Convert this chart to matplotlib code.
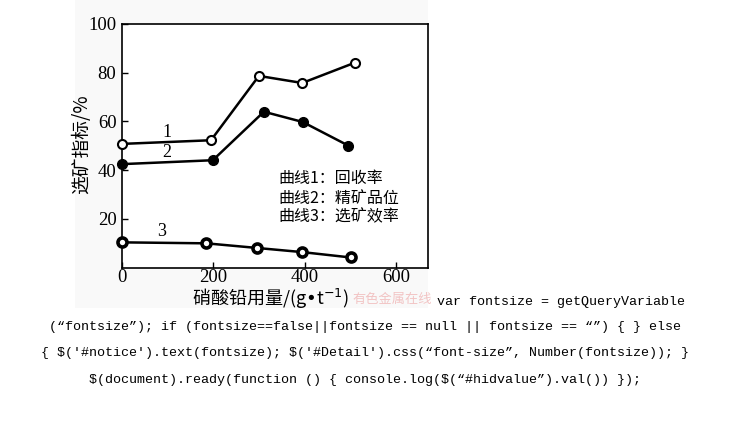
import matplotlib
matplotlib.use("Agg")
import matplotlib.pyplot as plt
from matplotlib.patches import Rectangle

# Data
x1 = [0, 195, 300, 395, 510]
y1 = [50.8, 52.3, 78.7, 75.8, 84.1]   # 回收率
x2 = [0, 199, 311, 396, 496]
y2 = [42.5, 44.1, 64.0, 59.8, 50.1]   # 精矿品位
x3 = [0, 185, 296, 395, 501]
y3 = [10.4, 10.0, 8.1, 6.4, 4.2]      # 选矿效率
xticks = [0, 200, 400, 600]
yticks = [20, 40, 60, 80, 100]
legend_lines = ["曲线1：回收率", "曲线2：精矿品位", "曲线3：选矿效率"]
code_lines = [
    'var fontsize = getQueryVariable',
    '(\u201cfontsize\u201d); if (fontsize==false||fontsize == null || fontsize == \u201c\u201d) { } else',
    '{ $(\'#notice\').text(fontsize); $(\'#Detail\').css(\u201cfont-size\u201d, Number(fontsize)); }',
    '$(document).ready(function () { console.log($(\u201c#hidvalue\u201d).val()) });',
]

serif = ["Liberation Serif", "Noto Sans CJK SC", "DejaVu Serif"]
cjk = ["Noto Sans CJK SC", "Liberation Serif"]

W, H = 730, 428
fig = plt.figure(figsize=(W / 100, H / 100), dpi=100)
fig.patch.set_facecolor("white")
# faint image background
bg = Rectangle((75 / W, 1 - 308 / H), (428 - 75) / W, 308 / H,
               transform=fig.transFigure, facecolor="#f9f9f9",
               edgecolor="none", zorder=-10)
fig.add_artist(bg)

ax = fig.add_axes([122 / W, 1 - 267.7 / H, (427.7 - 122) / W, (267.7 - 24) / H])
ax.set_zorder(1)
ax.set_facecolor("white")
ax.set_xlim(0, 670)
ax.set_ylim(0, 100)

lw = 1.8
ax.plot(x1, y1, color="black", lw=lw, marker="o", ms=6.5, mfc="white", mec="black", mew=1.5, clip_on=False, zorder=3)
ax.plot(x2, y2, color="black", lw=lw, marker="o", ms=7, mfc="black", mec="black", clip_on=False, zorder=3)
ax.plot(x3, y3, color="black", lw=lw, marker="o", ms=6.5, mfc="white", mec="black", mew=2.6, clip_on=False, zorder=3)

ax.text(98, 55.5, "1", fontsize=13, family=serif, ha="center", va="center")
ax.text(98, 47.2, "2", fontsize=13, family=serif, ha="center", va="center")
ax.text(87, 15.0, "3", fontsize=13, family=serif, ha="center", va="center")

for i, s in enumerate(legend_lines):
    ax.text(0.51, 0.364 - i * 0.078, s, transform=ax.transAxes, fontsize=11.5,
            family=cjk, ha="left", va="center")

ax.set_xticks(xticks)
ax.set_yticks(yticks)
ax.set_xticklabels([str(v) for v in xticks], family=serif, fontsize=13.5)
ax.set_yticklabels([str(v) for v in yticks], family=serif, fontsize=13.5)
ax.tick_params(direction="in", length=4, width=1)
ax.tick_params(axis="x", pad=1)
ax.tick_params(axis="y", pad=4)
for sp in ax.spines.values():
    sp.set_linewidth(1.2)

fig.text(270 / W, 1 - 299 / H, "硝酸铅用量/(g•t$^{-1}$)", fontsize=13,
         family=cjk, ha="center", va="center", zorder=2)
fig.text(82 / W, 1 - 144 / H, "选矿指标/%", fontsize=13.5, family=cjk,
         ha="center", va="center", rotation=90, zorder=2)
fig.text(392 / W, 1 - 299 / H, "有色金属在线", fontsize=9.5, family=cjk,
         color="#f2c4c4", ha="center", va="center", zorder=2)

mono = ["Liberation Mono", "DejaVu Sans Mono"]
fig.text(437 / W, 1 - 302 / H, code_lines[0], fontsize=9.6, family=mono, ha="left", va="center", parse_math=False)
fig.text(365 / W, 1 - 327 / H, code_lines[1], fontsize=9.6, family=mono, ha="center", va="center", parse_math=False)
fig.text(365 / W, 1 - 353 / H, code_lines[2], fontsize=9.6, family=mono, ha="center", va="center", parse_math=False)
fig.text(365 / W, 1 - 380 / H, code_lines[3], fontsize=9.6, family=mono, ha="center", va="center", parse_math=False)

fig.savefig("out.png", dpi=100)
